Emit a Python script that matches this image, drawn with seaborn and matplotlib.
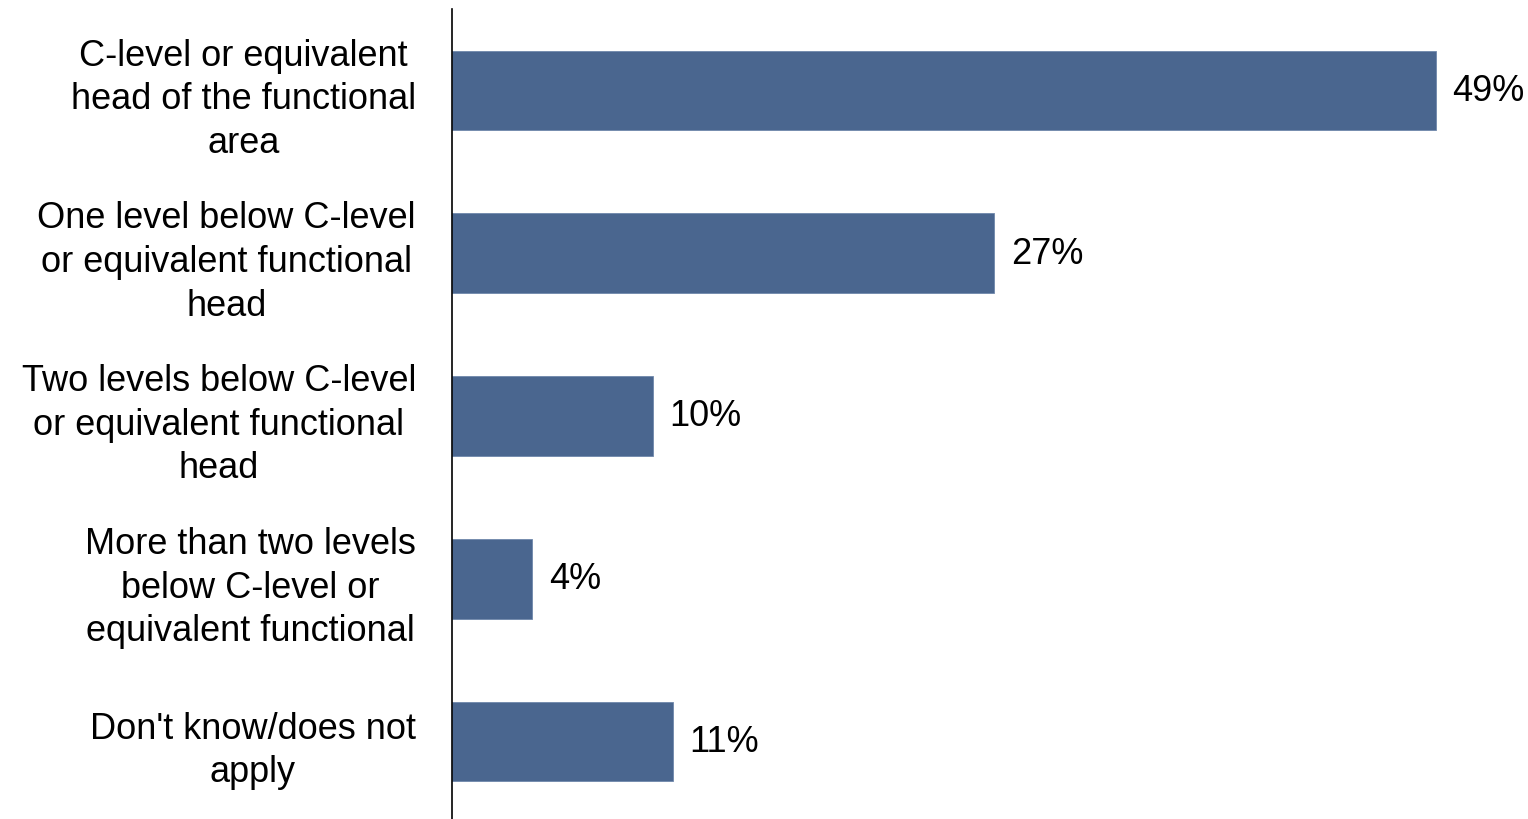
import pandas as pd
import seaborn as sns
import matplotlib.pyplot as plt

categories = [
    "C-level or equivalent\nhead of the functional\narea",
    "One level below C-level\nor equivalent functional\nhead",
    "Two levels below C-level\nor equivalent functional\nhead",
    "More than two levels\nbelow C-level or\nequivalent functional",
    "Don't know/does not\napply",
]
values = [49, 27, 10, 4, 11]
value_labels = ["49%", "27%", "10%", "4%", "11%"]

df = pd.DataFrame({"category": categories, "value": values})

sns.set_style("white")
plt.rcParams["font.family"] = ["Liberation Sans", "DejaVu Sans"]

fig = plt.figure(figsize=(15.28, 8.2), dpi=100)
ax = fig.add_axes([452 / 1528, -4 / 820, 1 - 452 / 1528, 814 / 820])

sns.barplot(data=df, x="value", y="category", color="#4A668F", saturation=1,
            width=0.49, edgecolor="#6F87AB", linewidth=0.6, ax=ax)

for i, (v, lab) in enumerate(zip(values, value_labels)):
    ax.annotate(lab, (v, i), xytext=(12, 0), textcoords="offset points",
                ha="left", va="center", fontsize=26, color="black")

ax.set_xlim(0, 53.6)
ax.set_ylim(4.5, -0.5)
ax.set(xlabel="", ylabel="")
ax.set_xticks([])
ax.tick_params(axis="y", length=0, pad=26, labelsize=26, labelcolor="black")
for t in ax.get_yticklabels():
    t.set_multialignment("center")
    t.set_linespacing(1.32)

for s in ["top", "right", "bottom"]:
    ax.spines[s].set_visible(False)
ax.spines["left"].set_color("black")
ax.spines["left"].set_linewidth(1.2)

fig.savefig("out.png", dpi=100, facecolor="white")
